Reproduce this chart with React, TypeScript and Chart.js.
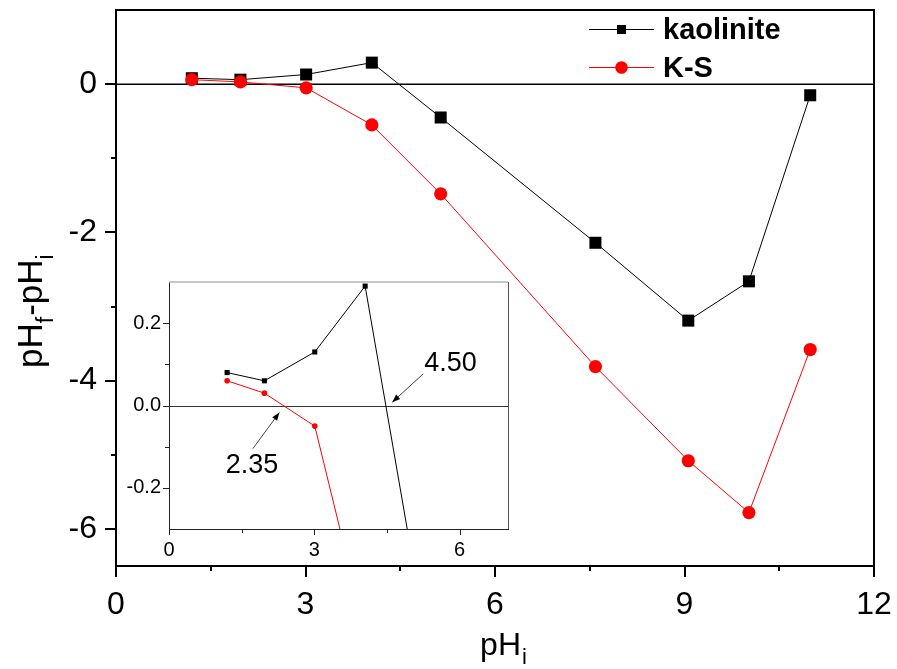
import React, { useEffect, useRef } from "react";
import { Chart, registerables } from "chart.js";

Chart.register(...registerables);

// ---- data ----
const phInitial = [1.2, 1.97, 3.01, 4.05, 5.14, 7.59, 9.06, 10.02, 10.99];
const kaoliniteDelta = [0.08, 0.06, 0.13, 0.29, -0.45, -2.14, -3.19, -2.66, -0.15];
const ksDelta = [0.06, 0.03, -0.05, -0.55, -1.48, -3.81, -5.08, -5.78, -3.58];
const seriesNames = ["kaolinite", "K-S"];
const mainXTicks = [0, 3, 6, 9, 12];
const mainYTicks = [-6, -4, -2, 0];
const insetXTicks = [0, 3, 6];
const insetYTicks = [-0.2, 0, 0.2];
const pzcLabels = ["2.35", "4.50"];
// annotation anchor points in inset data units: text start, arrow tail, arrow tip
const pzcTextPos = [[1.17, -0.146], [5.27, 0.102]];
const pzcArrowTail = [[1.73, -0.105], [5.25, 0.077]];
const pzcArrowTip = [[2.28, -0.017], [4.61, 0.008]];

const FONT = "'Liberation Sans', Arial, Helvetica, sans-serif";
const RED = "#ff0000";

const pts = (ys: number[]) => phInitial.map((x, i) => ({ x, y: ys[i] }));
const fixedWidth = (w: number) => (s: any) => {
  s.width = w;
  s.paddingTop = 0;
  s.paddingBottom = 0;
};
const fixedHeight = (h: number) => (s: any) => {
  s.height = h;
  s.paddingLeft = 0;
  s.paddingRight = 0;
};
const setTicks = (vals: number[]) => (s: any) => { s.ticks = vals.map((v) => ({ value: v })); };

function seg(ctx: CanvasRenderingContext2D, x1: number, y1: number, x2: number, y2: number) {
  ctx.beginPath();
  ctx.moveTo(x1, y1);
  ctx.lineTo(x2, y2);
  ctx.stroke();
}

const mainDecor = {
  id: "mainDecor",
  beforeDatasetsDraw(chart: any) {
    const { ctx, chartArea: a, scales } = chart;
    const y0 = scales.y.getPixelForValue(0);
    ctx.save();
    ctx.strokeStyle = "#000";
    ctx.lineWidth = 1.5;
    seg(ctx, a.left, y0, a.right, y0);
    ctx.restore();
  },
  afterDraw(chart: any) {
    const { ctx, chartArea: a, scales } = chart;
    const x = scales.x;
    const y = scales.y;
    ctx.save();
    ctx.strokeStyle = "#000";
    ctx.lineWidth = 2;
    ctx.beginPath();
    ctx.moveTo(a.left, a.top);
    ctx.lineTo(a.right, a.top);
    ctx.lineTo(a.right, a.bottom);
    ctx.stroke();
    // tick marks (major + minor), outward
    for (let k = 0; k * 1.5 <= x.max + 1e-9; k++) {
      const px = Math.round(x.getPixelForValue(k * 1.5));
      seg(ctx, px, a.bottom, px, a.bottom + (k % 2 === 0 ? 11 : 5));
    }
    for (let v = Math.ceil(y.min); v < y.max; v++) {
      const py = Math.round(y.getPixelForValue(v));
      seg(ctx, a.left, py, a.left - (v % 2 === 0 ? 11 : 5), py);
    }
    // legend
    const rows = [
      { label: seriesNames[0], color: "#000", style: "rect", ly: 29.5, base: 38.5 },
      { label: seriesNames[1], color: RED, style: "circle", ly: 67.5, base: 77 },
    ];
    const lx0 = a.right - 285;
    const lx1 = a.right - 220;
    const mx = (lx0 + lx1) / 2;
    rows.forEach((r) => {
      ctx.strokeStyle = r.color;
      ctx.lineWidth = 1;
      seg(ctx, lx0, r.ly, lx1, r.ly);
      ctx.fillStyle = r.color;
      if (r.style === "rect") {
        ctx.fillRect(mx - 4.5, r.ly - 4.5, 9, 9);
      } else {
        ctx.beginPath();
        ctx.arc(mx, r.ly, 6.3, 0, Math.PI * 2);
        ctx.fill();
      }
      ctx.fillStyle = "#000";
      ctx.font = `bold 29px ${FONT}`;
      ctx.textBaseline = "alphabetic";
      ctx.textAlign = "left";
      ctx.fillText(r.label, lx1 + 9, r.base);
    });
    // x axis title: pH_i
    ctx.fillStyle = "#000";
    ctx.textBaseline = "alphabetic";
    ctx.textAlign = "left";
    const big = `32px ${FONT}`;
    const small = `22px ${FONT}`;
    ctx.font = big;
    const wpH = ctx.measureText("pH").width;
    ctx.font = small;
    const wi = ctx.measureText("i").width;
    const cx = (a.left + a.right) / 2 + 8;
    const sx = cx - (wpH + wi) / 2;
    ctx.font = big;
    ctx.fillText("pH", sx, 655);
    ctx.font = small;
    ctx.fillText("i", sx + wpH + 1, 664);
    // y axis title: pH_f - pH_i (rotated)
    const ybig = `35px ${FONT}`;
    const ysmall = `23px ${FONT}`;
    const parts: [string, string, number][] = [
      ["pH", ybig, 0],
      ["f", ysmall, 11],
      ["-pH", ybig, 0],
      ["i", ysmall, 11],
    ];
    ctx.save();
    ctx.translate(42, 368);
    ctx.rotate(-Math.PI / 2);
    let tx = 0;
    parts.forEach(([t, f, dy]) => {
      ctx.font = f;
      ctx.fillText(t, tx, dy);
      tx += ctx.measureText(t).width + (dy ? 1 : 0);
    });
    ctx.restore();
    ctx.restore();
  },
};

const insetDecor = {
  id: "insetDecor",
  beforeDraw(chart: any) {
    const { ctx, chartArea: a } = chart;
    ctx.save();
    ctx.fillStyle = "#fff";
    ctx.fillRect(a.left, a.top, a.right - a.left, a.bottom - a.top);
    ctx.restore();
  },
  beforeDatasetsDraw(chart: any) {
    const { ctx, chartArea: a, scales } = chart;
    const y0 = Math.round(scales.y.getPixelForValue(0)) + 0.5;
    ctx.save();
    ctx.strokeStyle = "#333";
    ctx.lineWidth = 1;
    seg(ctx, a.left, y0, a.right, y0);
    ctx.restore();
  },
  afterDraw(chart: any) {
    const { ctx, chartArea: a, scales } = chart;
    const x = scales.x;
    const y = scales.y;
    ctx.save();
    // top and right frame
    ctx.lineWidth = 1.5;
    ctx.strokeStyle = "#b4b4b4";
    seg(ctx, a.left, a.top, a.right, a.top);
    ctx.lineWidth = 1;
    ctx.strokeStyle = "#555";
    seg(ctx, Math.round(a.right) + 0.5, a.top, Math.round(a.right) + 0.5, a.bottom);
    // ticks
    ctx.strokeStyle = "#222";
    for (let k = 0; k * 1.5 <= x.max + 1e-9; k++) {
      const px = Math.round(x.getPixelForValue(k * 1.5)) + 0.5;
      seg(ctx, px, a.bottom, px, a.bottom + (k % 2 === 0 ? 6 : 4));
    }
    for (let k = -2; k <= 2; k++) {
      const py = Math.round(y.getPixelForValue(k * 0.1)) + 0.5;
      seg(ctx, a.left, py, a.left - (k % 2 === 0 ? 6 : 4), py);
    }
    // PZC annotations
    ctx.fillStyle = "#000";
    ctx.font = `27px ${FONT}`;
    ctx.textBaseline = "middle";
    ctx.textAlign = "left";
    pzcLabels.forEach((label, i) => {
      const tx = x.getPixelForValue(pzcTextPos[i][0]);
      const ty = y.getPixelForValue(pzcTextPos[i][1]);
      ctx.fillText(label, tx, ty);
      const x1 = x.getPixelForValue(pzcArrowTail[i][0]);
      const y1 = y.getPixelForValue(pzcArrowTail[i][1]);
      const x2 = x.getPixelForValue(pzcArrowTip[i][0]);
      const y2 = y.getPixelForValue(pzcArrowTip[i][1]);
      ctx.strokeStyle = "#444";
      ctx.lineWidth = 1;
      seg(ctx, x1, y1, x2, y2);
      const ang = Math.atan2(y2 - y1, x2 - x1);
      const L = 8;
      const W = 3;
      ctx.beginPath();
      ctx.moveTo(x2, y2);
      ctx.lineTo(x2 - L * Math.cos(ang) + W * Math.sin(ang), y2 - L * Math.sin(ang) - W * Math.cos(ang));
      ctx.lineTo(x2 - L * Math.cos(ang) - W * Math.sin(ang), y2 - L * Math.sin(ang) + W * Math.cos(ang));
      ctx.closePath();
      ctx.fill();
    });
    ctx.restore();
  },
};

function makeMain(): any {
  return {
    type: "line",
    data: {
      datasets: [
        {
          label: seriesNames[0],
          data: pts(kaoliniteDelta),
          borderColor: "#000",
          backgroundColor: "#000",
          borderWidth: 1,
          pointStyle: "rect",
          pointRadius: 8.5,
          pointBorderWidth: 0,
          tension: 0,
          order: 1,
        },
        {
          label: seriesNames[1],
          data: pts(ksDelta),
          borderColor: RED,
          backgroundColor: RED,
          borderWidth: 1,
          pointStyle: "circle",
          pointRadius: 6.6,
          pointBorderWidth: 0,
          tension: 0,
          order: 0,
        },
      ],
    },
    options: {
      responsive: false,
      animation: false,
      events: [],
      layout: { padding: { top: 10, right: 23, left: 0, bottom: 0 } },
      plugins: { legend: { display: false }, tooltip: { enabled: false }, title: { display: false } },
      scales: {
        x: {
          type: "linear",
          min: 0,
          max: 12,
          afterBuildTicks: setTicks(mainXTicks),
          afterFit: fixedHeight(103),
          grid: { display: false, drawTicks: true, tickLength: 11 },
          border: { display: true, color: "#000", width: 2 },
          ticks: {
            color: "#000",
            font: { family: FONT, size: 32 },
            padding: 9,
            maxRotation: 0,
            autoSkip: false,
            callback: (v: any) => String(v),
          },
        },
        y: {
          type: "linear",
          min: -6.5,
          max: 1,
          afterBuildTicks: setTicks(mainYTicks),
          afterFit: fixedWidth(116),
          grid: { display: false, drawTicks: true, tickLength: 11 },
          border: { display: true, color: "#000", width: 2 },
          ticks: {
            color: "#000",
            font: { family: FONT, size: 32 },
            padding: 8,
            autoSkip: false,
            callback: (v: any) => String(v),
          },
        },
      },
    },
    plugins: [mainDecor],
  };
}

function makeInset(): any {
  return {
    type: "line",
    data: {
      datasets: [
        {
          label: seriesNames[0],
          data: pts(kaoliniteDelta),
          borderColor: "#000",
          backgroundColor: "#000",
          borderWidth: 1,
          pointStyle: "rect",
          pointRadius: 3.6,
          pointBorderWidth: 0,
          tension: 0,
          order: 1,
          clip: { left: 0, right: 0, top: 6, bottom: 0 },
        },
        {
          label: seriesNames[1],
          data: pts(ksDelta),
          borderColor: RED,
          backgroundColor: RED,
          borderWidth: 1,
          pointStyle: "circle",
          pointRadius: 2.8,
          pointBorderWidth: 0,
          tension: 0,
          order: 0,
          clip: { left: 0, right: 0, top: 6, bottom: 0 },
        },
      ],
    },
    options: {
      responsive: false,
      animation: false,
      events: [],
      layout: { padding: { top: 10, right: 12, left: 0, bottom: 0 } },
      plugins: { legend: { display: false }, tooltip: { enabled: false }, title: { display: false } },
      scales: {
        x: {
          type: "linear",
          min: 0,
          max: 7,
          afterBuildTicks: setTicks(insetXTicks),
          afterFit: fixedHeight(35),
          grid: { display: false, drawTicks: true, tickLength: 6 },
          border: { display: true, color: "#222", width: 1 },
          ticks: {
            color: "#000",
            font: { family: FONT, size: 20 },
            padding: 3,
            maxRotation: 0,
            autoSkip: false,
            callback: (v: any) => String(v),
          },
        },
        y: {
          type: "linear",
          min: -0.3,
          max: 0.3,
          afterBuildTicks: setTicks(insetYTicks),
          afterFit: fixedWidth(49),
          grid: { display: false, drawTicks: true, tickLength: 6 },
          border: { display: true, color: "#222", width: 1 },
          ticks: {
            color: "#000",
            font: { family: FONT, size: 20 },
            padding: 2,
            autoSkip: false,
            callback: (v: any) => Number(v).toFixed(1),
          },
        },
      },
    },
    plugins: [insetDecor],
  };
}

export default function App() {
  const mainRef = useRef<HTMLCanvasElement>(null);
  const insetRef = useRef<HTMLCanvasElement>(null);
  useEffect(() => {
    const main = new Chart(mainRef.current as HTMLCanvasElement, makeMain());
    const inset = new Chart(insetRef.current as HTMLCanvasElement, makeInset());
    return () => {
      main.destroy();
      inset.destroy();
    };
  }, []);
  return (
    <div style={{ position: "absolute", left: 0, top: 0, width: 897, height: 669, background: "#fff" }}>
      <canvas
        ref={mainRef}
        width={897}
        height={669}
        style={{ position: "absolute", left: 0, top: 0, width: 897, height: 669 }}
      />
      <canvas
        ref={insetRef}
        width={400}
        height={292}
        style={{ position: "absolute", left: 120, top: 272, width: 400, height: 292 }}
      />
    </div>
  );
}
